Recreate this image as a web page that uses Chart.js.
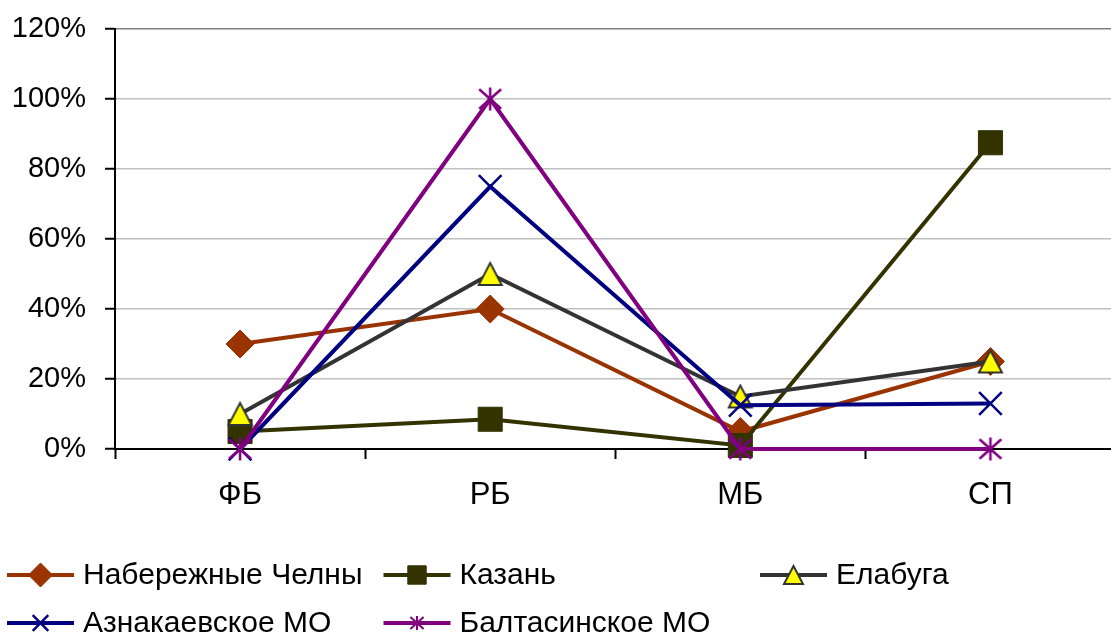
<!DOCTYPE html>
<html>
<head>
<meta charset="utf-8">
<script src="https://cdn.jsdelivr.net/npm/chart.js@4/dist/chart.umd.min.js"></script>
<style>
  html, body { margin: 0; padding: 0; overflow: hidden; background: #fff; }
  #wrap { width: 1134px; height: 637px; }
</style>
</head>
<body>
<div id="wrap"><canvas id="c" width="1134" height="637"></canvas></div>
<script>
// Budget-level categories and share values (%) per municipality
const categories = ['ФБ', 'РБ', 'МБ', 'СП'];
const seriesNames = ['Набережные Челны', 'Казань', 'Елабуга', 'Азнакаевское МО', 'Балтасинское МО'];
const chelny    = [30, 40, 5, 25];
const kazan     = [5, 8.5, 1, 87.5];
const elabuga   = [10, 50, 15, 25];
const aznakaevo = [0, 75, 12.5, 13];
const baltasi   = [0, 100, 0, 0];
const yMin = 0, yMax = 120, yStep = 20;

const FONT = "'Liberation Sans', Arial, sans-serif";

// Marker images for shapes Chart.js does not provide
function triangleImg(w, h, fill, stroke, lw) {
  const c = document.createElement('canvas');
  c.width = Math.ceil(w + lw * 2); c.height = Math.ceil(h + lw * 2);
  const g = c.getContext('2d');
  g.beginPath();
  g.moveTo(c.width / 2, lw);
  g.lineTo(c.width - lw, c.height - lw);
  g.lineTo(lw, c.height - lw);
  g.closePath();
  g.fillStyle = fill; g.fill();
  g.lineJoin = 'miter'; g.lineWidth = lw; g.strokeStyle = stroke; g.stroke();
  return c;
}
function asteriskImg(r, color, lw) {
  const s = Math.ceil(r * 2 + lw * 2);
  const c = document.createElement('canvas');
  c.width = s; c.height = s;
  const g = c.getContext('2d');
  const m = s / 2;
  g.strokeStyle = color; g.lineWidth = lw; g.lineCap = 'butt';
  g.beginPath();
  g.moveTo(m, m - r); g.lineTo(m, m + r);
  g.moveTo(m - r * 0.95, m - r * 0.85); g.lineTo(m + r * 0.95, m + r * 0.85);
  g.moveTo(m - r * 0.95, m + r * 0.85); g.lineTo(m + r * 0.95, m - r * 0.85);
  g.stroke();
  return c;
}

const triBig = triangleImg(23, 22, '#FFFF00', '#333333', 2);
const triSmall = triangleImg(19, 18, '#FFFF00', '#333333', 2);
const starBig = asteriskImg(11.5, '#800080', 2.5);
const starSmall = asteriskImg(7, '#800080', 2);

const datasets = [
  { label: seriesNames[0], data: chelny, borderColor: '#993300', backgroundColor: '#993300',
    pointStyle: 'rectRot', pointRadius: 14, pointBorderWidth: 1, order: 4 },
  { label: seriesNames[1], data: kazan, borderColor: '#333300', backgroundColor: '#333300',
    pointStyle: 'rect', pointRadius: 17, pointBorderWidth: 1, order: 3 },
  { label: seriesNames[2], data: elabuga, borderColor: '#333333', backgroundColor: '#FFFF00',
    pointStyle: triBig, pointRadius: 13, pointBorderWidth: 0, order: 2 },
  { label: seriesNames[3], data: aznakaevo, borderColor: '#000080', backgroundColor: '#000080',
    pointStyle: 'crossRot', pointRadius: 16, pointBorderWidth: 2.5, order: 1 },
  { label: seriesNames[4], data: baltasi, borderColor: '#800080', backgroundColor: '#800080',
    pointStyle: starBig, pointRadius: 12, pointBorderWidth: 0, order: 0 }
].map(d => Object.assign({
  borderWidth: 4, tension: 0, clip: false, fill: false,
  pointBorderColor: d.borderColor, pointBackgroundColor: d.backgroundColor,
  pointHoverRadius: d.pointRadius
}, d));

// Legend marker styles (smaller than the plot markers)
const legendMarkers = [
  { style: 'rectRot', radius: 12 },
  { style: 'rect', radius: 13 },
  { style: triSmall, radius: 10 },
  { style: 'crossRot', radius: 11 },
  { style: starSmall, radius: 7 }
];
const legendLayout = { x0: 7, colW: 376.5, y0: 575, rowH: 48, perRow: 3, lineLen: 67, gap: 9 };

const gridLegend = {
  id: 'gridLegend',
  afterDraw(chart) {
    const ctx = chart.ctx;
    const L = legendLayout;
    chart.data.datasets.forEach((ds, i) => {
      const col = i % L.perRow, row = Math.floor(i / L.perRow);
      const x = L.x0 + col * L.colW, y = L.y0 + row * L.rowH;
      ctx.save();
      ctx.strokeStyle = ds.borderColor; ctx.lineWidth = ds.borderWidth;
      ctx.beginPath(); ctx.moveTo(x, y); ctx.lineTo(x + L.lineLen, y); ctx.stroke();
      const mk = legendMarkers[i];
      ctx.fillStyle = ds.pointBackgroundColor; ctx.strokeStyle = ds.pointBorderColor;
      ctx.lineWidth = ds.pointBorderWidth;
      Chart.helpers.drawPoint(ctx, { pointStyle: mk.style, radius: mk.radius, rotation: 0,
        borderWidth: ds.pointBorderWidth }, x + L.lineLen / 2, y);
      ctx.fillStyle = '#000'; ctx.font = '30px ' + FONT;
      ctx.textAlign = 'left'; ctx.textBaseline = 'middle';
      ctx.fillText(ds.label, x + L.lineLen + L.gap, y + 1);
      ctx.restore();
    });
  }
};

new Chart(document.getElementById('c'), {
  type: 'line',
  data: { labels: categories, datasets },
  plugins: [gridLegend],
  options: {
    responsive: false,
    animation: false,
    events: [],
    layout: { padding: { left: 0, right: 3, top: 29, bottom: 128 } },
    plugins: { legend: { display: false }, tooltip: { enabled: false } },
    scales: {
      x: {
        offset: true,
        grid: { offset: true, drawOnChartArea: false, tickLength: 10, tickColor: '#000', tickWidth: 2 },
        border: { color: '#000', width: 2 },
        ticks: { color: '#000', font: { family: FONT, size: 31 }, padding: 18, maxRotation: 0 },
        afterFit(s) { s.height = 60; }
      },
      y: {
        min: yMin, max: yMax,
        grid: {
          color: c => (c.tick && c.tick.value === yMax ? '#808080' : '#c0c0c0'),
          lineWidth: 1.5, tickLength: 10, tickColor: '#000', tickWidth: 2
        },
        border: { color: '#000', width: 2 },
        ticks: { stepSize: yStep, color: '#000', font: { family: FONT, size: 29 }, padding: 19,
          callback: v => v + '%' },
        afterFit(s) { s.width = 115; s.paddingTop = 0; s.paddingBottom = 0; }
      }
    }
  }
});
</script>
</body>
</html>
